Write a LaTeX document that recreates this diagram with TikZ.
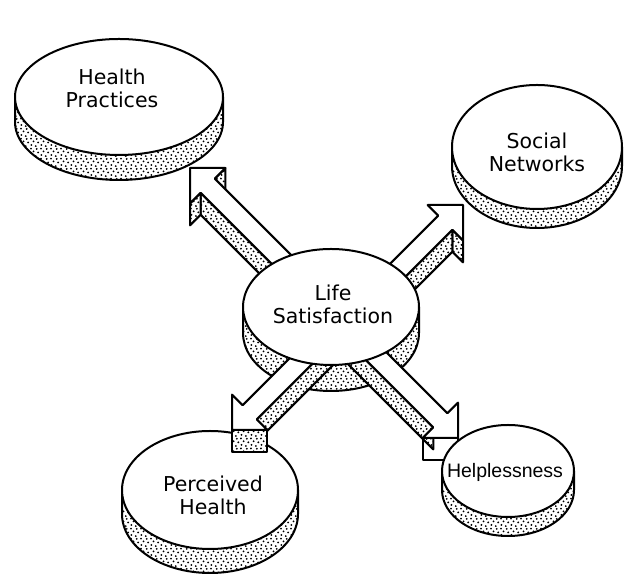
\documentclass[tikz,border=0pt]{standalone}
\usepackage{fontspec}
\setmainfont{DejaVu Sans}
\newfontfamily\helfont{Liberation Sans}
\usetikzlibrary{calc,patterns}

%Punktraster fuer die Schattenflaechen
\pgfdeclarepatternformonly{stipple}{\pgfpointorigin}{\pgfpoint{10pt}{10pt}}{\pgfpoint{10pt}{10pt}}{%
  \pgfpathcircle{\pgfpoint{1.6pt}{2.2pt}}{1.1pt}
  \pgfpathcircle{\pgfpoint{6.3pt}{1.0pt}}{1.1pt}
  \pgfpathcircle{\pgfpoint{8.9pt}{5.0pt}}{1.1pt}
  \pgfpathcircle{\pgfpoint{3.9pt}{6.1pt}}{1.1pt}
  \pgfpathcircle{\pgfpoint{7.3pt}{8.8pt}}{1.1pt}
  \pgfpathcircle{\pgfpoint{1.0pt}{9.1pt}}{1.1pt}
  \pgfusepath{fill}}

\begin{document}
\begin{tikzpicture}
	[
	x=1pt, y=1pt, line width=2pt, line join=round,
	stip/.style={preaction={fill=white}, pattern=stipple},
	plain/.style={fill=white},
	lbl/.style={font=\fontsize{20.5}{23}\selectfont, align=center, inner sep=0pt}
	]
	\useasboundingbox (0,0) rectangle (624,577);
	
	%Scheiben aussen: Rand, dann Deckel
	\foreach \cx/\cy/\rx/\ry/\h in {119/480/104/58/25, 537/430/85/62/19, 210/87/88/59/24}{
		\draw[stip] (\cx-\rx,\cy) -- ++(0,-\h) arc[start angle=180, end angle=360, x radius=\rx, y radius=\ry] -- ++(0,\h) -- cycle;
		\draw[fill=white] (\cx,\cy) ellipse [x radius=\rx, y radius=\ry];
	}
	\node[lbl] (hp) at (112,489) {Health\\Practices};
	\node[lbl] (sn) at (537,425) {Social\\Networks};
	\node[lbl] (ph) at (213,82) {Perceived\\Health};
	
	%Rand der mittleren Scheibe
	\draw[stip] (331-88,270) -- ++(0,-26) arc[start angle=180, end angle=360, x radius=88, y radius=58] -- ++(0,26) -- cycle;
	
	%Pfeile: Anfang und Spitze
	\coordinate (a1-t) at (300,299); \coordinate (a1-p) at (190,409);
	\coordinate (a2-t) at (360,269); \coordinate (a2-p) at (463,372);
	\coordinate (a3-t) at (345,260); \coordinate (a3-p) at (232,147);
	\coordinate (a4-t) at (335,262); \coordinate (a4-p) at (458,139);
	
	\foreach \a in {a1,a2,a3,a4}{
		\coordinate (\a-b) at ($(\a-p)!25pt!(\a-t)$);
		\coordinate (\a-1) at ($(\a-t)!10pt!90:(\a-p)$);
		\coordinate (\a-2) at ($(\a-b)!10pt!90:(\a-p)$);
		\coordinate (\a-3) at ($(\a-b)!25pt!90:(\a-p)$);
		\coordinate (\a-4) at (\a-p);
		\coordinate (\a-5) at ($(\a-b)!25pt!-90:(\a-p)$);
		\coordinate (\a-6) at ($(\a-b)!10pt!-90:(\a-p)$);
		\coordinate (\a-7) at ($(\a-t)!10pt!-90:(\a-p)$);
	}
	
	%sichtbare Seitenflaechen, dann Oberseite
	\foreach \a/\fl in {a1/{1/2/stip,2/3/stip,5/6/stip}, a2/{5/6/stip,6/7/stip}, a3/{1/2/stip,3/4/stip}, a4/{4/5/plain,6/7/stip}}{
		\foreach \i/\j/\f in \fl
		\draw[\f] (\a-\i) -- (\a-\j) -- ($(\a-\j)+(0,-22)$) -- ($(\a-\i)+(0,-22)$) -- cycle;
		\draw[fill=white] (\a-1) -- (\a-2) -- (\a-3) -- (\a-4) -- (\a-5) -- (\a-6) -- (\a-7) -- cycle;
	}
	
	%Deckel der mittleren Scheibe
	\draw[fill=white] (331,270) ellipse [x radius=88, y radius=58];
	\node[lbl] (ls) at (333,273) {Life\\Satisfaction};
	
	%Helplessness vor dem Pfeil
	\draw[stip] (508-66,106) -- ++(0,-19) arc[start angle=180, end angle=360, x radius=66, y radius=46] -- ++(0,19) -- cycle;
	\draw[fill=white] (508,106) ellipse [x radius=66, y radius=46];
	\node[lbl, font=\helfont\fontsize{19.5}{22}\selectfont] (hl) at (505,105) {Helplessness};
\end{tikzpicture}
\end{document}
